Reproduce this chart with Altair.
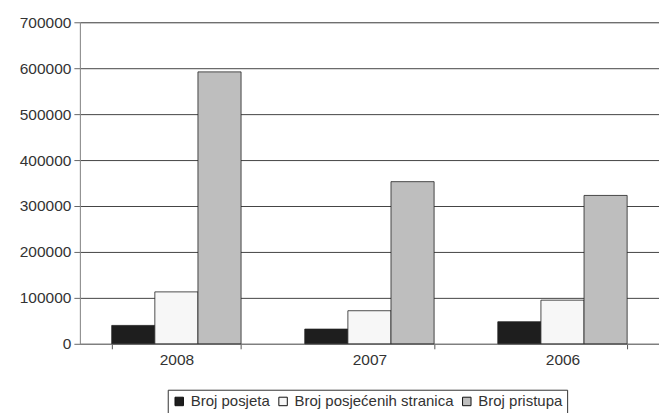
import altair as alt
import pandas as pd

# Yearly visit statistics
years = ["2008", "2007", "2006"]
series = ["Broj posjeta", "Broj posjećenih stranica", "Broj pristupa"]
posjeta = [40000, 32000, 48000]
stranice = [113000, 72000, 95000]
pristupa = [592000, 353000, 323000]

rows = []
for i, y in enumerate(years):
    for s, vals in zip(series, [posjeta, stranice, pristupa]):
        rows.append({"godina": y, "serija": s, "vrijednost": vals[i]})
df = pd.DataFrame(rows)

colors = ["#1e1e1e", "#f7f7f7", "#bebebe"]
FONT = "Liberation Sans"
FS = 15.5
TEXT = "#333333"

bars = alt.Chart(df).mark_bar(stroke="#222222", strokeWidth=1, strokeOpacity=0.8).encode(
    x=alt.X(
        "godina:N",
        sort=years,
        title=None,
        scale=alt.Scale(paddingInner=0.33, paddingOuter=0.165),
        axis=alt.Axis(
            labelAngle=0,
            labelFont=FONT,
            labelFontSize=FS,
            labelColor=TEXT,
            labelPadding=4,
            tickBand="extent",
            tickSize=5,
            tickColor="#555555",
            domainColor="#888888",
            grid=False,
        ),
    ),
    xOffset=alt.XOffset("serija:N", sort=series, scale=alt.Scale(paddingInner=0, paddingOuter=0)),
    y=alt.Y(
        "vrijednost:Q",
        title=None,
        scale=alt.Scale(domain=[0, 700000], nice=False),
        axis=alt.Axis(
            values=[0, 100000, 200000, 300000, 400000, 500000, 600000, 700000],
            format="d",
            labelFont=FONT,
            labelFontSize=FS,
            labelColor=TEXT,
            labelPadding=3,
            tickSize=6,
            tickColor="#666666",
            domainColor="#888888",
            gridColor="#444444",
            gridWidth=1,
        ),
    ),
    color=alt.Color(
        "serija:N",
        sort=series,
        scale=alt.Scale(domain=series, range=colors),
        legend=alt.Legend(
            title=None,
            orient="none",
            direction="horizontal",
            legendX=88,
            legendY=368,
            symbolType="square",
            symbolSize=72,
            symbolStrokeColor="#111111",
            symbolStrokeWidth=1,
            labelFont=FONT,
            labelFontSize=15,
            labelColor=TEXT,
            labelLimit=400,
            labelOffset=4,
            columnPadding=5,
            padding=4,
            strokeColor="#333333",
            fillColor="white",
        ),
    ),
)

chart = bars.properties(
    width=580,
    height=322,
    autosize=alt.AutoSizeParams(type="none"),
    padding={"left": 80, "top": 22, "right": 0, "bottom": 69},
).configure_view(stroke=None).configure(background="white")

chart.save("out.html", embed_options={"renderer": "svg", "actions": False})
